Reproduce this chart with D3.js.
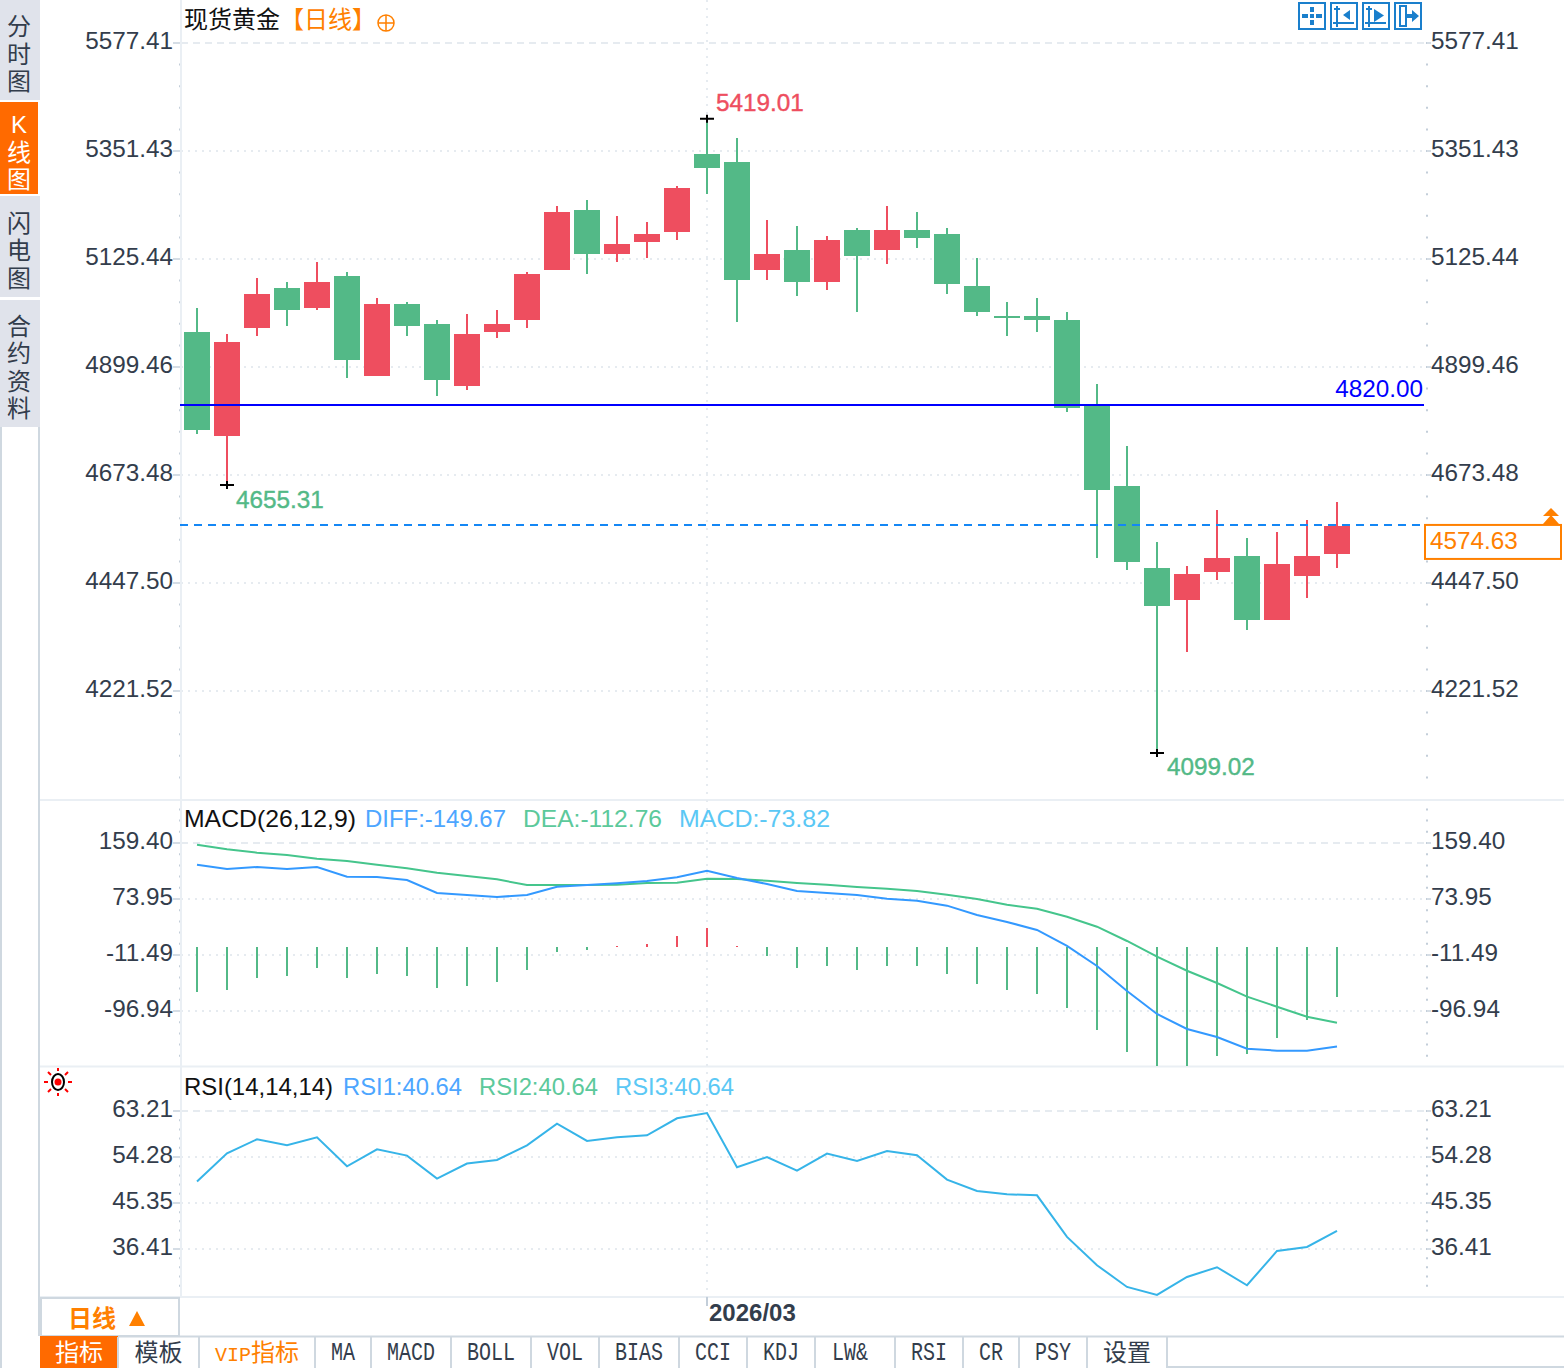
<!DOCTYPE html>
<html>
<head>
<meta charset="utf-8">
<title>现货黄金</title>
<script src="https://cdn.jsdelivr.net/npm/d3@7"></script>
<style>
html,body{margin:0;padding:0;background:#fff;overflow:hidden}
svg{display:block}
text{font-family:"Liberation Sans","Noto Sans CJK SC",sans-serif}
</style>
</head>
<body>
<svg id="chart" width="1564" height="1368"></svg>
<script>
// candles, one per trading day, left to right
var opens = [4972.7,4755.09,4981.07,5064.77,5022.92,5089.88,4880.64,5031.29,4989.44,4859.71,4972.7,4997.81,5102.43,5227.98,5135.91,5161.02,5181.94,5345.15,5328.41,5102.43,5144.28,5077.32,5186.13,5144.28,5186.13,5177.76,5068.95,5006.18,5006.18,4997.81,4822.05,4650.47,4478.9,4411.94,4470.53,4504.01,4370.09,4462.16,4508.19];
var closes = [4767.65,4951.78,5052.21,5018.74,5077.32,4914.12,5031.29,4985.26,4872.27,4968.52,4989.44,5094.06,5223.79,5135.91,5156.83,5177.76,5274.01,5315.86,5081.51,5135.91,5077.32,5165.2,5131.73,5186.13,5169.39,5073.14,5014.55,5002,4997.81,4813.68,4642.1,4491.45,4399.39,4466.34,4499.82,4370.09,4487.27,4504.01,4566.78];
var highs = [5022.92,4968.52,5085.69,5077.32,5119.17,5098.25,5043.84,5035.48,4997.81,5010.37,5018.74,5098.25,5236.35,5248.9,5215.42,5202.87,5278.19,5419.01,5378.63,5207.05,5194.5,5173.57,5190.31,5236.35,5223.79,5190.31,5127.54,5035.48,5043.84,5014.55,4863.9,4734.17,4533.3,4483.08,4600.26,4541.67,4554.22,4579.33,4617];
var lows = [4759.28,4652.6,4964.33,4985.26,5018.74,4876.45,4880.64,4964.33,4838.79,4851.34,4960.15,4981.07,5102.43,5094.06,5119.17,5127.54,5165.2,5261.45,4993.63,5081.51,5048.03,5060.58,5014.55,5114.99,5148.46,5052.21,5006.18,4964.33,4972.7,4805.31,4499.82,4474.71,4091.8,4303.14,4453.79,4349.17,4370.09,4416.12,4478.9];

var diff = [126.3,119.7,122.8,119.7,122.8,108,107.5,103,83.1,80.1,77,80.1,92.7,95.3,98,101.4,107.1,117.1,106,96.9,86.2,83.1,80.1,74.4,71.4,63.8,49.6,38.9,26.7,2.3,-28.3,-66.4,-101.5,-124.4,-136.6,-154.5,-157.5,-157.5,-151];
var dea = [156.8,149.8,144.6,141.1,135.5,132,126.3,120.8,114.1,109.1,104,95.3,95.3,95.3,95.8,98.4,98.8,104.9,104.5,101.9,98.4,95.8,92.3,89.7,86.2,80.5,73.9,65.2,59.1,46.9,31.7,9.9,-14.1,-35.5,-54.2,-75.1,-90.4,-105.7,-115];
var macd = [-67.4,-64.9,-46.1,-43,-30.8,-46.1,-40,-43,-61.3,-58.3,-52.2,-33.9,-6.9,-3.8,2.7,5.8,17.5,29.8,2.7,-12.5,-30.8,-27.8,-33.9,-27.8,-27.8,-40,-55.2,-64.4,-70.5,-91.9,-125.4,-159,-181,-181,-165.1,-162,-137.6,-110.2,-76];
var rsi = [49.5,55,57.72,56.55,58.1,52.47,55.77,54.55,50.09,53,53.7,56.55,60.76,57.39,58.1,58.49,61.79,62.82,52.28,54.28,51.64,54.94,53.5,55.44,54.61,49.89,47.68,47.04,46.84,38.75,33.26,29.04,27.49,30.98,32.87,29.37,36.03,36.81,39.91];

var priceTicks = [5577.41,5351.43,5125.44,4899.46,4673.48,4447.5,4221.52];
var macdTicks = [159.4,73.95,-11.49,-96.94];
var rsiTicks = [63.21,54.28,45.35,36.41];
var refPrice = 4820;
var lastLine = 4569;
var lastLabel = "4574.63";
var monthIndex = 17;
var monthLabel = "2026/03";

var sideTabs = [["分","时","图"],["K","线","图"],["闪","电","图"],["合","约","资","料"]];
var bottomTabs = ["指标","模板","VIP指标","MA","MACD","BOLL","VOL","BIAS","CCI","KDJ","LW&","RSI","CR","PSY","设置"];

var GREEN = "#53b987", RED = "#ee4e5f", TEXT = "#333d4c", GRID = "#e6ebf0", TICK = "#c3ced9", ORANGE = "#ff8000";
var left = 180, right = 1427, plotEnd = 1424;

var svg = d3.select("#chart");
var x = d3.scaleLinear().domain([0, 38]).range([197, 1337]);
var yPrice = d3.scaleLinear().domain([4221.52, 5577.41]).range([691, 43]);
var yMacd = d3.scaleLinear().domain([-96.94, 159.4]).range([1011, 843]);
var yRsi = d3.scaleLinear().domain([36.41, 63.21]).range([1249, 1111]);

// plain hyphen, d3 would use the long minus
function tickText(d){return d3.format(".2f")(d).replace("\u2212", "-")}

// minor ticks, five to a major step, run down the whole panel
function minorTicks(scale, ticks, top, bottom) {
  var step = (ticks[0] - ticks[1]) / 5, out = [];
  for (var v = ticks[0] + step * 20; v > ticks[0] - step * 200; v -= step) {
    if (scale(v) >= top && scale(v) <= bottom) out.push(v);
  }
  return out;
}

// grid, axes on both sides
function panelAxes(scale, ticks, top, bottom) {
  var g = svg.append("g");
  g.append("g").selectAll("line").data(ticks).enter().append("line")
    .attr("x1", left + 1).attr("x2", plotEnd)
    .attr("y1", function(d){return scale(d)}).attr("y2", function(d){return scale(d)})
    .attr("stroke", GRID).attr("stroke-width", 2)
    .attr("stroke-dasharray", function(d, i){return i == 0 ? "7,5" : "2,5"});

  var minors = minorTicks(scale, ticks, top, bottom);
  g.append("g").attr("transform", "translate(" + (left + 1) + ",0)")
    .call(d3.axisLeft(scale).tickValues(minors).tickSize(2).tickFormat("").offset(0))
    .call(function(a){a.select(".domain").remove(); a.selectAll("line").attr("stroke", TICK).attr("stroke-width", 2)});
  g.append("g").attr("transform", "translate(" + (right + 1) + ",0)")
    .call(d3.axisLeft(scale).tickValues(minors).tickSize(2).tickFormat("").offset(0))
    .call(function(a){a.select(".domain").remove(); a.selectAll("line").attr("stroke", TICK).attr("stroke-width", 2)});

  var la = g.append("g").attr("transform", "translate(" + left + ",0)")
    .call(d3.axisLeft(scale).tickValues(ticks).tickSize(7).tickPadding(0).tickFormat(tickText).offset(0));
  var ra = g.append("g").attr("transform", "translate(" + right + ",0)")
    .call(d3.axisRight(scale).tickValues(ticks).tickSize(4).tickPadding(0).tickFormat(tickText).offset(0));
  [la, ra].forEach(function(a){
    a.select(".domain").remove();
    a.selectAll("line").attr("stroke", "#d5dde5").attr("stroke-width", 2);
    a.selectAll("text").attr("fill", TEXT).attr("font-size", 24.3).attr("dy", "0.25em")
      .style("font-family", '"Liberation Sans",sans-serif');
  });
}

panelAxes(yPrice, priceTicks, 43, 798);
panelAxes(yMacd, macdTicks, 803, 1064);
panelAxes(yRsi, rsiTicks, 1111, 1294);

// frame lines
svg.append("g").selectAll("line")
  .data([[40,800,1564,800],[40,1066.5,1564,1066.5],[40,1297,1564,1297],[181,0,181,1297]])
  .enter().append("line")
  .attr("x1", function(d){return d[0]}).attr("y1", function(d){return d[1]})
  .attr("x2", function(d){return d[2]}).attr("y2", function(d){return d[3]})
  .attr("stroke", "#eaeff4").attr("stroke-width", 2);

svg.append("line").attr("x1", x(monthIndex)).attr("x2", x(monthIndex)).attr("y1", 0).attr("y2", 1297)
  .attr("stroke", GRID).attr("stroke-width", 2).attr("stroke-dasharray", "2,6");
svg.append("line").attr("x1", x(monthIndex)).attr("x2", x(monthIndex)).attr("y1", 1297).attr("y2", 1306)
  .attr("stroke", TICK).attr("stroke-width", 2);

// candles
var idx = d3.range(opens.length);
function candleColor(i){return closes[i] >= opens[i] ? RED : GREEN}

var candles = svg.append("g").attr("id", "candles").attr("shape-rendering", "crispEdges");
candles.selectAll("rect.wick").data(idx).enter().append("rect").attr("class", "wick")
  .attr("x", function(i){return x(i) - 1}).attr("width", 2)
  .attr("y", function(i){return yPrice(highs[i])})
  .attr("height", function(i){return yPrice(lows[i]) - yPrice(highs[i])})
  .attr("fill", candleColor);
candles.selectAll("rect.body").data(idx).enter().append("rect").attr("class", "body")
  .attr("x", function(i){return x(i) - 13}).attr("width", 26)
  .attr("y", function(i){return yPrice(Math.max(opens[i], closes[i]))})
  .attr("height", function(i){return Math.max(2, Math.abs(yPrice(opens[i]) - yPrice(closes[i])))})
  .attr("fill", candleColor);

// reference and last price lines
svg.append("line").attr("x1", left).attr("x2", plotEnd).attr("y1", yPrice(refPrice)).attr("y2", yPrice(refPrice))
  .attr("stroke", "#0000ff").attr("stroke-width", 2);
svg.append("text").attr("x", plotEnd - 1).attr("y", yPrice(refPrice) - 8).attr("text-anchor", "end")
  .attr("font-size", 24.3).attr("fill", "#0000ff").text(d3.format(".2f")(refPrice));
svg.append("line").attr("x1", left).attr("x2", plotEnd).attr("y1", yPrice(lastLine)).attr("y2", yPrice(lastLine))
  .attr("stroke", "#1487f5").attr("stroke-width", 2).attr("stroke-dasharray", "8,6");
svg.append("rect").attr("x", 1425).attr("y", yPrice(lastLine)).attr("width", 136).attr("height", 34)
  .attr("fill", "#fff").attr("stroke", ORANGE).attr("stroke-width", 2);
svg.append("text").attr("x", 1430).attr("y", yPrice(lastLine) + 24).attr("font-size", 24.3).attr("fill", ORANGE).text(lastLabel);
svg.append("path").attr("d", "M1551 508l8 8h-16zM1551 515l8 9h-16z").attr("fill", ORANGE);

// extreme price marks, the printed value sits a little off the drawn wick
var marks = [
  {i:17, v:highs[17], label:"5419.01", lx:716, ly:111, c:RED},
  {i:1, v:lows[1], label:"4655.31", lx:236, ly:508, c:GREEN},
  {i:32, v:lows[32], label:"4099.02", lx:1167, ly:775, c:GREEN}
];
marks.forEach(function(m){
  var px = x(m.i), py = yPrice(m.v);
  svg.append("path").attr("d", "M" + (px-7) + " " + py + "h14M" + px + " " + (py-4) + "v8")
    .attr("stroke", "#000").attr("stroke-width", 2).attr("fill", "none");
  svg.append("text").attr("x", m.lx).attr("y", m.ly).attr("font-size", 24.3).attr("font-weight", 500)
    .attr("fill", m.c).attr("stroke", m.c).attr("stroke-width", 0.4).text(m.label);
});

// MACD panel
svg.append("clipPath").attr("id", "macdClip").append("rect").attr("x", 181).attr("y", 802).attr("width", 1243).attr("height", 264);
var macdG = svg.append("g").attr("clip-path", "url(#macdClip)");
macdG.selectAll("rect").data(idx).enter().append("rect")
  .attr("x", function(i){return x(i) - 1}).attr("width", 2)
  .attr("y", function(i){return Math.min(yMacd(0), yMacd(macd[i]))})
  .attr("height", function(i){return Math.abs(yMacd(macd[i]) - yMacd(0))})
  .attr("fill", function(i){return macd[i] >= 0 ? RED : GREEN})
  .attr("shape-rendering", "crispEdges");
var macdLine = function(vals){
  return d3.line().x(function(i){return x(i)}).y(function(i){return yMacd(vals[i])})(idx);
};
macdG.append("path").attr("d", macdLine(dea)).attr("fill", "none").attr("stroke", "#45c58c").attr("stroke-width", 2);
macdG.append("path").attr("d", macdLine(diff)).attr("fill", "none").attr("stroke", "#3399ff").attr("stroke-width", 2);

// RSI panel
svg.append("path")
  .attr("d", d3.line().x(function(i){return x(i)}).y(function(i){return yRsi(rsi[i])})(idx))
  .attr("fill", "none").attr("stroke", "#36b4e8").attr("stroke-width", 2);

// legends
function legend(items, y){
  svg.append("g").selectAll("text").data(items).enter().append("text")
    .attr("x", function(d){return d[0]}).attr("y", y).attr("font-size", 24)
    .attr("textLength", function(d){return d[3]}).attr("lengthAdjust", "spacingAndGlyphs")
    .attr("fill", function(d){return d[2]}).text(function(d){return d[1]});
}
legend([[184,"MACD(26,12,9)","#111",172],[365,"DIFF:-149.67","#4da6ff",141],[523,"DEA:-112.76","#5cc99b",139],[679,"MACD:-73.82","#5bc8f5",151]], 827);
legend([[184,"RSI(14,14,14)","#111",149],[343,"RSI1:40.64","#4da6ff",119],[479,"RSI2:40.64","#5cc99b",119],[615,"RSI3:40.64","#5bc8f5",119]], 1095);

// title
svg.append("text").attr("x", 184).attr("y", 28).attr("font-size", 24).attr("fill", "#111").text("现货黄金");
svg.append("text").attr("x", 280).attr("y", 28).attr("font-size", 24).attr("fill", ORANGE).text("【日线】");
svg.append("g").attr("transform", "translate(386,23)").call(function(g){
  g.append("circle").attr("r", 8).attr("fill", "none").attr("stroke", ORANGE).attr("stroke-width", 1.5);
  g.append("path").attr("d", "M-8 0h16M0 -8v16").attr("stroke", ORANGE).attr("stroke-width", 1.5);
});

// toolbar buttons, top right
var BLUE = "#1a7fcc";
var buttons = [
  {x:1299, fill:"M12 5h4v5h-4zM12 18h4v5h-4zM4 12h6v4h-6zM18 12h6v4h-6zM12 12h4v4h-4z", line:""},
  {x:1331, fill:"M20 8v10l-7 -5z", line:"M7 4v21M3 21h21M4 7h6"},
  {x:1363, fill:"M12 7v13l10 -6.500z", line:"M7 4v21M3 21h21M4 7h6"},
  {x:1395, fill:"M13 12h5v-4l7 6 -7 6v-4h-5z", line:"M6 4h6v20h-6z"}
];
buttons.forEach(function(b){
  var g = svg.append("g").attr("transform", "translate(" + b.x + ",3)");
  g.append("rect").attr("width", 26).attr("height", 26).attr("fill", "#fff").attr("stroke", BLUE).attr("stroke-width", 2);
  g.append("path").attr("d", b.fill).attr("fill", BLUE).attr("transform", "translate(-1,-1)");
  if (b.line) g.append("path").attr("d", b.line).attr("fill", "none").attr("stroke", BLUE).attr("stroke-width", 2).attr("transform", "translate(-1,-1)");
});

// side tabs
var sideBoxes = [[0,100],[102,194],[196,297],[300,427]];
var side = svg.append("g");
sideBoxes.forEach(function(b, k){
  side.append("rect").attr("x", 0).attr("y", b[0]).attr("width", k == 1 ? 38 : 40).attr("height", b[1] - b[0])
    .attr("fill", k == 1 ? "#ff6a00" : "#e0e3eb");
  var chars = sideTabs[k], n = chars.length;
  chars.forEach(function(c, j){
    side.append("text").attr("x", 19).attr("text-anchor", "middle")
      .attr("y", (b[0] + b[1]) / 2 + (j - (n - 1) / 2) * 27.5 + 12.5)
      .attr("font-size", 24).attr("fill", k == 1 ? "#fff" : "#333d4c").text(c);
  });
});
side.append("line").attr("x1", 1).attr("x2", 1).attr("y1", 427).attr("y2", 1368).attr("stroke", "#cfd8e0").attr("stroke-width", 2);
side.append("line").attr("x1", 39).attr("x2", 39).attr("y1", 427).attr("y2", 1336).attr("stroke", "#cfd8e0").attr("stroke-width", 2);

// the little sun next to the RSI panel
svg.append("g").attr("transform", "translate(58,1082)").call(function(g){
  g.append("ellipse").attr("rx", 6).attr("ry", 8).attr("fill", "#fff").attr("stroke", "#000").attr("stroke-width", 2);
  g.append("circle").attr("r", 3.500).attr("fill", "#f00");
  g.append("path").attr("d", "M-14 0h4M10 0h4M0 -14v3M0 11v3M-10 -10l3 3M10 -10l-3 3M-10 10l3 -3M10 10l-3 -3")
    .attr("stroke", "#f00").attr("stroke-width", 2);
});

// period box and month label
svg.append("rect").attr("x", 41).attr("y", 1298).attr("width", 138).attr("height", 38).attr("fill", "#fff").attr("stroke", "#cfd8e0").attr("stroke-width", 2);
svg.append("text").attr("x", 68).attr("y", 1327).attr("font-size", 24).attr("font-weight", 700).attr("fill", ORANGE).text("日线");
svg.append("path").attr("d", "M137 1311l8 15h-16z").attr("fill", ORANGE);
svg.append("text").attr("x", 709).attr("y", 1321).attr("font-size", 24).attr("font-weight", 700).attr("fill", TEXT).text(monthLabel);

// bottom tab row
var tabEdges = [40,118,199,315,371,451,531,599,679,747,815,895,963,1019,1087,1167];
var tabs = svg.append("g");
tabs.append("line").attr("x1", 40).attr("x2", 1564).attr("y1", 1336.5).attr("y2", 1336.5).attr("stroke", "#cfd8e0").attr("stroke-width", 2);
tabs.append("line").attr("x1", 1167).attr("x2", 1564).attr("y1", 1367).attr("y2", 1367).attr("stroke", "#cfd8e0").attr("stroke-width", 2);
tabs.append("rect").attr("x", tabEdges[0]).attr("y", 1336).attr("width", tabEdges[1] - tabEdges[0]).attr("height", 32).attr("fill", "#ff6a00");
tabs.selectAll("line.edge").data(tabEdges.slice(1)).enter().append("line").attr("class", "edge")
  .attr("x1", function(d){return d}).attr("x2", function(d){return d}).attr("y1", 1337).attr("y2", 1368)
  .attr("stroke", "#cfd8e0").attr("stroke-width", 2);

bottomTabs.forEach(function(d, i){
  var cx = (tabEdges[i] + tabEdges[i + 1]) / 2;
  if (d == "LW&") cx -= 5;
  var color = i == 0 ? "#fff" : i == 2 ? ORANGE : TEXT;
  var t = tabs.append("text").attr("text-anchor", "middle").attr("fill", color)
    .style("font-family", '"Liberation Mono","Noto Sans CJK SC",monospace');
  if (/^[A-Z&]+$/.test(d)) {
    // the latin labels are tall and narrow in the reference
    t.attr("transform", "translate(" + cx + ",1360) scale(1,1.25)").attr("font-size", 20).text(d);
  } else if (d == "VIP指标") {
    t.attr("x", cx).attr("y", 1361).attr("font-size", 24);
    t.append("tspan").attr("font-size", 20).text("VIP");
    t.append("tspan").text("指标");
  } else {
    t.attr("x", cx).attr("y", 1361).attr("font-size", 24).text(d);
  }
});
</script>
</body>
</html>
